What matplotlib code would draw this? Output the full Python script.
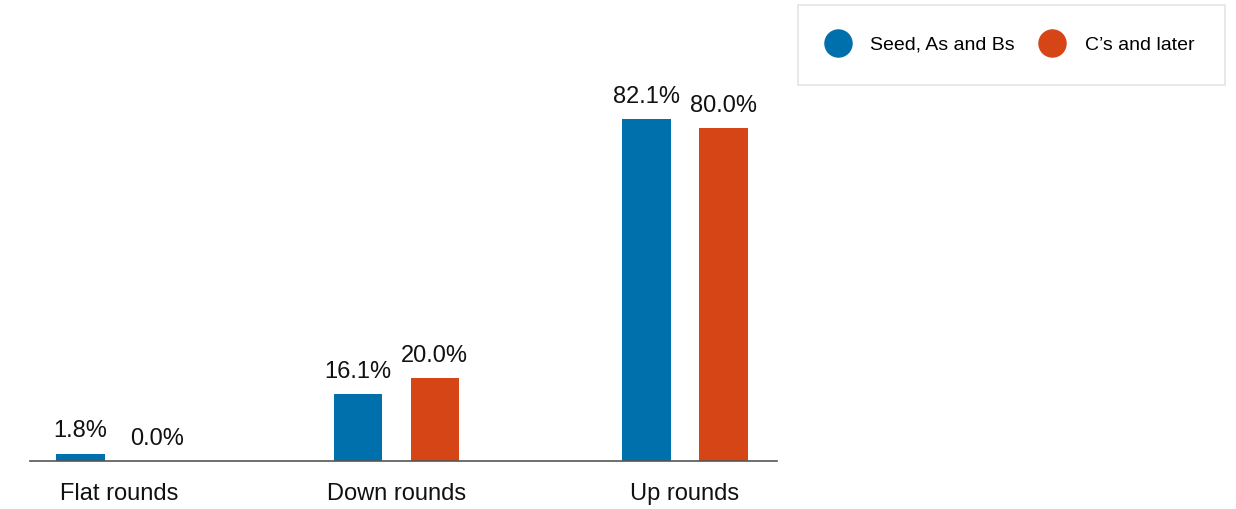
import numpy as np
import matplotlib.pyplot as plt
from matplotlib.lines import Line2D

plt.rcParams['font.family'] = ['Liberation Sans', 'DejaVu Sans']

categories = ["Flat rounds", "Down rounds", "Up rounds"]
early = [1.8, 16.1, 82.1]
late = [0.0, 20.0, 80.0]
series_names = ["Seed, As and Bs", "C\u2019s and later"]

blue = '#0070ad'
orange = '#d64515'

fig = plt.figure(figsize=(12.36, 5.09), dpi=100)
ax = fig.add_axes([30/1236, 48/509, 747/1236, 416.6/509])

# group centres (slightly uneven spacing)
x = np.array([0, 0.98, 2])
w = 0.17
off = 0.136
b1 = ax.bar(x - off, early, w, color=blue)
b2 = ax.bar(x + off, late, w, color=orange)

for bars, vals in ((b1, early), (b2, late)):
    for r, v in zip(bars, vals):
        ax.annotate(f"{v:.1f}%", (r.get_x() + r.get_width()/2, v),
                    xytext=(0, 8), textcoords='offset points',
                    ha='center', va='bottom', fontsize=17, color='#111111')

ax.set_xlim(-0.3145, 2.325)
ax.set_ylim(0, 100)
ax.set_xticks(x)
ax.set_xticklabels(categories, fontsize=17, color='#111111')
ax.tick_params(axis='x', length=0, pad=16)
ax.set_yticks([])
for s in ['top', 'right', 'left']:
    ax.spines[s].set_visible(False)
ax.spines['bottom'].set_color('#555555')
ax.spines['bottom'].set_linewidth(1.2)

handles = [Line2D([], [], marker='o', ls='none', color=c, markersize=19.5)
           for c in (blue, orange)]
leg = fig.legend(handles, series_names, loc='upper left',
                 bbox_to_anchor=(798/1236, 1 - 5/509),
                 ncol=2, fontsize=14, frameon=True,
                 fancybox=False, edgecolor='#dddddd', borderpad=1.6,
                 handlelength=0.9, handletextpad=1.2, columnspacing=1.5,
                 borderaxespad=0)
leg.get_frame().set_linewidth(1.2)

fig.savefig('out.png', dpi=100)
